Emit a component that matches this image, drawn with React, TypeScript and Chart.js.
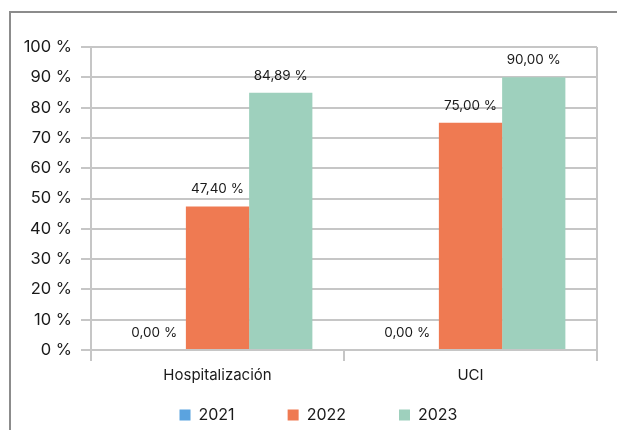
import React, { useEffect, useRef } from "react";
import { Chart, registerables } from "chart.js";

Chart.register(...registerables);

const categories = ["Hospitalización", "UCI"];
const years = ["2021", "2022", "2023"];
const values2021 = [0, 0];
const values2022 = [47.4, 75.0];
const values2023 = [84.89, 90.0];
const colors = ["#5ba3df", "#ef7a52", "#9ed0bd"];
const yTicks = [0, 10, 20, 30, 40, 50, 60, 70, 80, 90, 100];

const FONT = "Inter, 'Liberation Sans', Arial, sans-serif";
const GRID = "#c6c6c6";
const TEXT = "#1a1a1a";

const fmtPct = (v: number) => v.toFixed(2).replace(".", ",") + " %";

// Value labels above each bar, the right edge of the plot frame,
// and a single-row legend with wide gaps under the axis.
const overlayPlugin = {
  id: "overlay",
  afterDatasetsDraw(chart: any) {
    const ctx = chart.ctx;
    const area = chart.chartArea;
    ctx.save();
    ctx.strokeStyle = GRID;
    ctx.lineWidth = 2;
    ctx.beginPath();
    ctx.moveTo(area.right, area.top);
    ctx.lineTo(area.right, area.bottom);
    ctx.stroke();

    ctx.fillStyle = TEXT;
    ctx.font = `13.5px ${FONT}`;
    ctx.textAlign = "center";
    ctx.textBaseline = "middle";
    chart.data.datasets.forEach((ds: any, i: number) => {
      const meta = chart.getDatasetMeta(i);
      meta.data.forEach((bar: any, j: number) => {
        ctx.fillText(fmtPct(ds.data[j]), bar.x, bar.y - 17);
      });
    });
    ctx.restore();
  },
  afterDraw(chart: any) {
    const ctx = chart.ctx;
    const box = 11;
    const textGap = 8;
    const itemGap = 53;
    const rowY = chart.height - 15;
    ctx.save();
    ctx.font = `16px ${FONT}`;
    ctx.textBaseline = "middle";
    ctx.textAlign = "left";
    const items = chart.data.datasets.map((ds: any) => ({
      label: ds.label,
      color: ds.backgroundColor,
      w: box + textGap + ctx.measureText(ds.label).width,
    }));
    const total =
      items.reduce((s: number, it: any) => s + it.w, 0) + itemGap * (items.length - 1);
    let x = chart.width / 2 + 10 - total / 2;
    items.forEach((it: any) => {
      ctx.fillStyle = it.color;
      ctx.fillRect(x, rowY - box / 2, box, box);
      ctx.fillStyle = TEXT;
      ctx.fillText(it.label, x + box + textGap, rowY);
      x += it.w + itemGap;
    });
    ctx.restore();
  },
};

export default function App() {
  const canvasRef = useRef<HTMLCanvasElement | null>(null);

  useEffect(() => {
    if (!canvasRef.current) return;
    const series = [values2021, values2022, values2023];
    const chart = new Chart(canvasRef.current, {
      type: "bar",
      data: {
        labels: categories,
        datasets: years.map((y, i) => ({
          label: y,
          data: series[i],
          backgroundColor: colors[i],
          borderWidth: 0,
          categoryPercentage: 0.75,
          barPercentage: 1,
        })),
      },
      options: {
        responsive: false,
        animation: false,
        layout: {
          padding: { left: 0, right: 20, top: 47, bottom: 41 },
        },
        plugins: {
          tooltip: { enabled: false },
          legend: { display: false },
        },
        scales: {
          x: {
            offset: true,
            grid: {
              offset: true,
              drawOnChartArea: false,
              drawTicks: true,
              tickLength: 11,
              color: GRID,
              lineWidth: 2,
            },
            border: { display: true, color: GRID, width: 2 },
            ticks: {
              font: { family: FONT, size: 15 },
              color: TEXT,
              padding: 5,
            },
          },
          y: {
            min: 0,
            max: 100,
            afterBuildTicks: (scale: any) => {
              scale.ticks = yTicks.map((v) => ({ value: v }));
            },
            afterFit: (scale: any) => {
              scale.width = 91;
            },
            grid: {
              color: GRID,
              lineWidth: 2,
              tickLength: 10,
            },
            border: { display: true, color: GRID, width: 2 },
            ticks: {
              font: { family: FONT, size: 16.5 },
              color: TEXT,
              padding: 9,
              callback: (v: any) => `${v} %`,
            },
          },
        },
      },
      plugins: [overlayPlugin],
    });
    return () => chart.destroy();
  }, []);

  return (
    <div
      style={{
        position: "fixed",
        left: 0,
        top: 0,
        width: 617,
        height: 430,
        background: "#ffffff",
        overflow: "hidden",
      }}
    >
      <div
        style={{
          position: "absolute",
          left: 9,
          top: 11,
          width: 640,
          height: 460,
          borderLeft: "2px solid #8c8c8c",
          borderTop: "2px solid #8c8c8c",
        }}
      />
      <canvas
        ref={canvasRef}
        width={617}
        height={430}
        style={{ position: "absolute", left: 0, top: 0 }}
      />
    </div>
  );
}
